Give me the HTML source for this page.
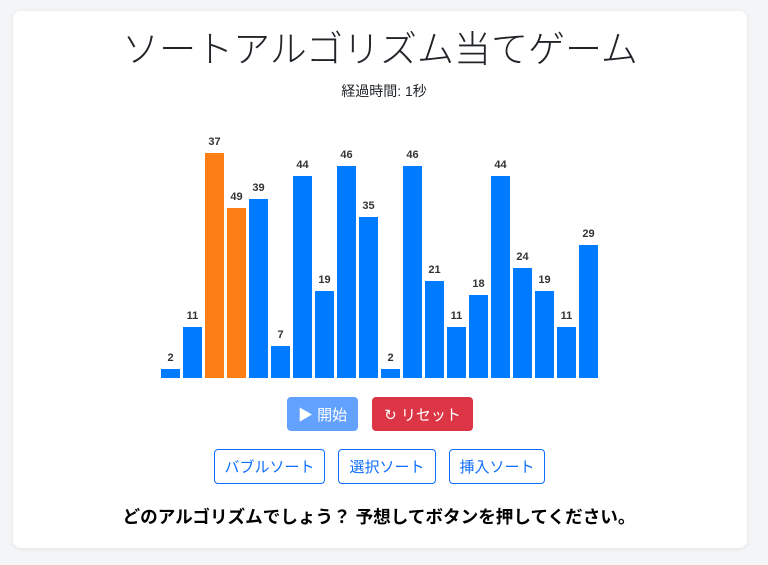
<!DOCTYPE html>
<html><head><meta charset="utf-8"><style>
body{margin:0;width:768px;height:565px;background:#f4f5f7;font-family:"Liberation Sans","Noto Sans CJK JP",sans-serif;position:relative;overflow:hidden}
.card{position:absolute;left:13px;top:11px;width:734px;height:537px;background:#fff;border-radius:8px;box-shadow:0 1px 4px rgba(0,0,0,.08)}
.t{position:absolute;left:0;width:768px;text-align:center;color:#212529}
.bar{position:absolute;width:19px;bottom:187px}
.lb{position:absolute;width:30px;text-align:center;font:bold 11px "Liberation Sans",sans-serif;color:#333}
.btn{position:absolute;box-sizing:border-box;border-radius:4px;font-size:15px;display:flex;align-items:center;justify-content:center}
.o{border:1px solid #0d6efd;color:#0d6efd;background:#fff;top:449px;height:35px}
</style></head><body>
<div class="card"></div>
<div class="t" style="top:26px;left:-4px;font-size:37px;font-weight:300;line-height:48px">ソートアルゴリズム当てゲーム</div>
<div class="t" style="top:81px;font-size:14px;line-height:20px">経過時間: 1秒</div>
<div id="bars"></div>
<div class="btn" style="left:287px;top:397px;width:71px;height:34px;background:#62a1fe;color:#fff">▶ 開始</div>
<div class="btn" style="left:372px;top:397px;width:101px;height:34px;background:#dc3545;color:#fff">↻ リセット</div>
<div class="btn o" style="left:214px;width:111px">バブルソート</div>
<div class="btn o" style="left:338px;width:98px">選択ソート</div>
<div class="btn o" style="left:449px;width:96px">挿入ソート</div>
<div class="t" style="top:506px;left:-5px;font-size:17.6px;font-weight:bold;line-height:22px;color:#000">どのアルゴリズムでしょう？ 予想してボタンを押してください。</div>
<script>
var h=[2,11,49,37,39,7,44,19,46,35,2,46,21,11,18,44,24,19,11,29];
var l=[2,11,37,49,39,7,44,19,46,35,2,46,21,11,18,44,24,19,11,29];
var s='';
for(var i=0;i<20;i++){var x=161+i*22,ht=h[i]*4.6,c=(i==2||i==3)?'#fd7e14':'#007bff';
s+='<div class="bar" style="left:'+x+'px;height:'+ht+'px;background:'+c+'"></div>';
s+='<div class="lb" style="left:'+(x-5.5)+'px;top:'+(378-ht-17)+'px">'+l[i]+'</div>';}
document.getElementById('bars').innerHTML=s;
</script>
</body></html>
